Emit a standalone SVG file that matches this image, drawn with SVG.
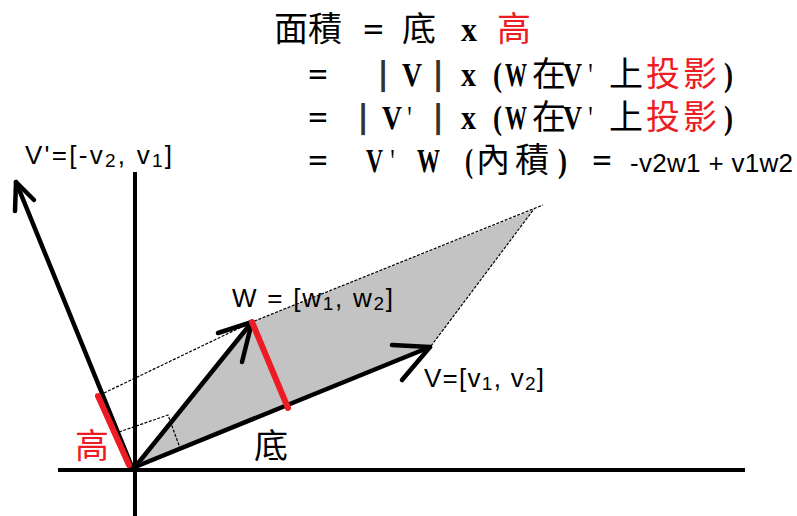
<svg xmlns="http://www.w3.org/2000/svg" width="797" height="516" viewBox="0 0 797 516">
<style>
.ax{stroke:#000;stroke-width:4;fill:none}
.vec{stroke:#000;stroke-width:4.5;fill:none;stroke-linecap:round;stroke-linejoin:round}
.thin{stroke:#000;stroke-width:1.2;fill:none;stroke-dasharray:3 1.5}
.red{stroke:#ed1c24;stroke-width:6;stroke-linecap:round;fill:none}
.cjk{font-family:"Noto Sans CJK TC","Noto Sans CJK SC",sans-serif;font-size:34px;fill:#000}
.asc{font-family:"Liberation Serif","Noto Sans CJK TC",serif;font-weight:bold;font-size:34px;fill:#000}
.bar{font-family:"DejaVu Sans",sans-serif;font-weight:bold;font-size:32px;fill:#333;text-anchor:middle}
.lbl{font-family:"Liberation Sans","Open Sans",sans-serif;font-size:26px;fill:#000}
.sub{font-size:19px}
.rd{fill:#ed1c24}
</style>
<rect width="797" height="516" fill="#fff"/>
<g id="parallelogram">
  <polygon points="135,467 252,322 533,210 431,346" fill="#c3c3c3"/>
  <polyline class="thin" points="104,393 252,322 543,205"/>
  <line class="thin" x1="431" y1="346" x2="534" y2="209"/>
  <polyline class="thin" points="119,432 168,415 180,448"/>
</g>
<g id="axes">
  <line class="ax" x1="58" y1="470" x2="745" y2="470"/>
  <line class="ax" x1="135" y1="172" x2="135" y2="516"/>
</g>
<g id="connectors">
  <g id="vector-Vp">
    <line class="vec" x1="132" y1="467" x2="16" y2="182"/>
    <polyline class="vec" points="15,211 16,182 34,200"/>
  </g>
  <g id="vector-V">
    <line class="vec" x1="135" y1="467" x2="430" y2="347"/>
    <polyline class="vec" points="392,345 430,347 402,380"/>
  </g>
  <g id="vector-W">
    <line class="vec" x1="135" y1="467" x2="252" y2="322"/>
    <polyline class="vec" points="218,333 252,322 242,362"/>
  </g>
  <line id="height-on-Vp" class="red" x1="98" y1="396" x2="129" y2="465"/>
  <line id="height-on-W" class="red" x1="252" y1="322" x2="288" y2="408"/>
</g>
<g id="label-Vp"><text class="lbl" x="25" y="164" textLength="147">V'=[-v<tspan class="sub" dy="3">2</tspan><tspan dy="-3">, v</tspan><tspan class="sub" dy="3">1</tspan><tspan dy="-3">]</tspan></text></g>
<g id="label-W"><text class="lbl" x="232" y="307" font-size="27" textLength="161">W = [w<tspan class="sub" dy="3">1</tspan><tspan dy="-3">, w</tspan><tspan class="sub" dy="3">2</tspan><tspan dy="-3">]</tspan></text></g>
<g id="label-V"><text class="lbl" x="424" y="387" textLength="120">V=[v<tspan class="sub" dy="3">1</tspan><tspan dy="-3">, v</tspan><tspan class="sub" dy="3">2</tspan><tspan dy="-3">]</tspan></text></g>
<g id="label-height"><text class="cjk rd" x="75" y="458" font-size="31">高</text></g>
<g id="label-base"><text class="cjk" x="254" y="458" font-size="31">底</text></g>
<g id="formula">
  <g id="line1">
    <text class="cjk" x="274" y="41">面積</text>
    <text class="asc" x="363" y="41" textLength="21" lengthAdjust="spacingAndGlyphs">=</text>
    <text class="cjk" x="402" y="41">底</text>
    <text class="asc" x="461" y="41" textLength="16" lengthAdjust="spacingAndGlyphs">x</text>
    <text class="cjk rd" x="497" y="41">高</text>
  </g>
  <g id="line2">
    <text class="asc" x="308" y="86" textLength="20" lengthAdjust="spacingAndGlyphs">=</text>
    <text class="bar" x="383" y="84">|</text>
    <text class="asc" x="402" y="86" textLength="20" lengthAdjust="spacingAndGlyphs">V</text>
    <text class="bar" x="438" y="84">|</text>
    <text class="asc" x="461" y="86" textLength="15" lengthAdjust="spacingAndGlyphs">x</text>
    <text class="asc" x="493" y="86" textLength="9" lengthAdjust="spacingAndGlyphs">(</text>
    <text class="asc" x="505" y="86" textLength="22" lengthAdjust="spacingAndGlyphs">W</text>
    <text class="cjk" x="532" y="86">在</text>
    <text class="asc" x="563" y="86" textLength="19" lengthAdjust="spacingAndGlyphs">V</text>
    <text class="asc" x="588" y="86" textLength="5" lengthAdjust="spacingAndGlyphs">'</text>
    <text class="cjk" x="609" y="86">上</text>
    <text class="cjk rd" x="646" y="86">投</text>
    <text class="cjk rd" x="683" y="86">影</text>
    <text class="asc" x="724" y="86" textLength="9" lengthAdjust="spacingAndGlyphs">)</text>
  </g>
  <g id="line3">
    <text class="asc" x="308" y="129" textLength="20" lengthAdjust="spacingAndGlyphs">=</text>
    <text class="bar" x="363" y="127">|</text>
    <text class="asc" x="382" y="129" textLength="20" lengthAdjust="spacingAndGlyphs">V</text>
    <text class="asc" x="407" y="129" textLength="5" lengthAdjust="spacingAndGlyphs">'</text>
    <text class="bar" x="438" y="127">|</text>
    <text class="asc" x="461" y="129" textLength="15" lengthAdjust="spacingAndGlyphs">x</text>
    <text class="asc" x="493" y="129" textLength="9" lengthAdjust="spacingAndGlyphs">(</text>
    <text class="asc" x="505" y="129" textLength="22" lengthAdjust="spacingAndGlyphs">W</text>
    <text class="cjk" x="532" y="129">在</text>
    <text class="asc" x="563" y="129" textLength="19" lengthAdjust="spacingAndGlyphs">V</text>
    <text class="asc" x="588" y="129" textLength="5" lengthAdjust="spacingAndGlyphs">'</text>
    <text class="cjk" x="609" y="129">上</text>
    <text class="cjk rd" x="646" y="129">投</text>
    <text class="cjk rd" x="683" y="129">影</text>
    <text class="asc" x="724" y="129" textLength="9" lengthAdjust="spacingAndGlyphs">)</text>
  </g>
  <g id="line4">
    <text class="asc" x="308" y="172" textLength="20" lengthAdjust="spacingAndGlyphs">=</text>
    <text class="asc" x="366" y="172" textLength="17" lengthAdjust="spacingAndGlyphs">V</text>
    <text class="asc" x="390" y="172" textLength="5" lengthAdjust="spacingAndGlyphs">'</text>
    <text class="asc" x="417" y="172" textLength="23" lengthAdjust="spacingAndGlyphs">W</text>
    <text class="asc" x="465" y="172" textLength="8" lengthAdjust="spacingAndGlyphs">(</text>
    <text class="cjk" x="476" y="172">內</text>
    <text class="cjk" x="515" y="172">積</text>
    <text class="asc" x="558" y="172" textLength="9" lengthAdjust="spacingAndGlyphs">)</text>
    <text class="asc" x="592" y="172" textLength="20" lengthAdjust="spacingAndGlyphs">=</text>
    <text class="lbl" x="630" y="172" textLength="163">-v2w1 + v1w2</text>
  </g>
</g>
</svg>
